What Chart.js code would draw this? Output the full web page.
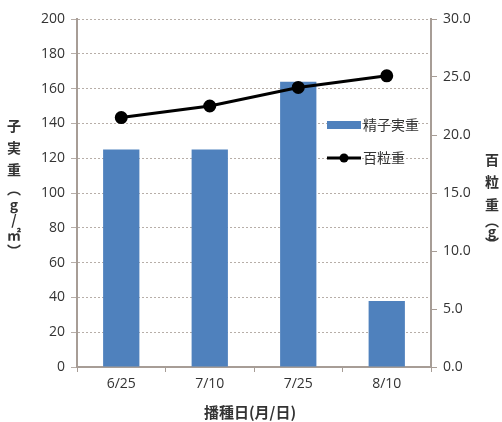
<!DOCTYPE html>
<html>
<head>
<meta charset="utf-8">
<script src="https://cdn.jsdelivr.net/npm/chart.js@4/dist/chart.umd.min.js"></script>
<style>
  html, body { margin: 0; padding: 0; background: #fff; }
  #wrap { width: 502px; height: 422px; position: relative; }
</style>
</head>
<body>
<div id="wrap"><canvas id="myChart" width="502" height="422"></canvas></div>
<script>
const dates = ["6/25", "7/10", "7/25", "8/10"];
const seedYield = [125, 125, 164, 38];      // 子実重 (g/㎡)
const hundredWeight = [21.5, 22.5, 24.1, 25.1]; // 百粒重 (g)

const seriesNames = ["精子実重", "百粒重"];
const leftTitle = ["子", "実", "重", "︵", "g", "/", "㎡", "︶"];
const rightTitle = ["百", "粒", "重", "︵", "g", "︶"];
const xTitle = "播種日(月/日)";

const barColor = "#4f81bd";
const axisColor = "#a79d96";
const gridColor = "#b7aea8";
const textColor = "#333333";
const numFont = { family: "'Open Sans', 'Liberation Sans', sans-serif", size: 14 };
const jpFont = "'Noto Sans CJK JP', sans-serif";

// legend inside the plot and the stacked axis titles
const extras = {
  id: "extras",
  afterDraw(chart) {
    const c = chart.ctx;
    c.save();
    c.fillStyle = textColor;
    c.textAlign = "center";
    c.textBaseline = "middle";
    c.font = "bold 14px " + jpFont;
    const ly = [126, 148, 170, 189, 205, 220, 235, 251];
    leftTitle.forEach((ch, i) => c.fillText(ch, 14, ly[i]));
    const ry = [160, 182, 205, 221, 232, 244];
    rightTitle.forEach((ch, i) => c.fillText(ch, 492, ry[i]));
    c.font = "bold 15px " + jpFont;
    c.fillText(xTitle, 250, 412);

    // legend
    c.textAlign = "left";
    c.font = "14px " + jpFont;
    c.fillStyle = barColor;
    c.fillRect(327, 121, 34, 8);
    c.fillStyle = textColor;
    c.fillText(seriesNames[0], 363, 125);
    c.strokeStyle = "#000";
    c.lineWidth = 3;
    c.beginPath();
    c.moveTo(327, 158);
    c.lineTo(361, 158);
    c.stroke();
    c.fillStyle = "#000";
    c.beginPath();
    c.arc(344, 158, 4.5, 0, Math.PI * 2);
    c.fill();
    c.fillStyle = textColor;
    c.fillText(seriesNames[1], 363, 158);
    c.restore();
  }
};

const ctx = document.getElementById("myChart").getContext("2d");
const myChart = new Chart(ctx, {
  type: "bar",
  data: {
    labels: dates,
    datasets: [
      {
        type: "line",
        label: seriesNames[1],
        data: hundredWeight,
        yAxisID: "y2",
        borderColor: "#000",
        backgroundColor: "#000",
        borderWidth: 3,
        pointRadius: 5,
        pointBackgroundColor: "#000",
        pointBorderColor: "#000",
        tension: 0,
        order: 0,
      },
      {
        label: seriesNames[0],
        data: seedYield,
        yAxisID: "y",
        backgroundColor: barColor,
        barPercentage: 1,
        categoryPercentage: 0.41,
        order: 1,
      },
    ],
  },
  options: {
    responsive: false,
    animation: false,
    layout: { padding: { top: 19, left: 0, right: 0, bottom: 0 } },
    plugins: {
      legend: { display: false },
      tooltip: { enabled: false },
    },
    scales: {
      x: {
        grid: { drawOnChartArea: false, color: axisColor, tickLength: 5, offset: true },
        border: { color: axisColor, width: 2 },
        ticks: { color: textColor, font: numFont, padding: 4 },
        afterFit: (s) => { s.height = 55; },
      },
      y: {
        position: "left",
        min: 0,
        max: 200,
        ticks: { stepSize: 20, color: textColor, font: numFont, padding: 6 },
        grid: { color: gridColor, lineWidth: 1, tickLength: 6, tickBorderDash: [] },
        border: { color: axisColor, width: 2, dash: [2, 2] },
        afterFit: (s) => { s.width = 77; },
      },
      y2: {
        position: "right",
        min: 0,
        max: 30,
        ticks: {
          stepSize: 5,
          color: textColor,
          font: numFont,
          padding: 6,
          callback: (v) => v.toFixed(1),
        },
        grid: { drawOnChartArea: false, color: axisColor, tickLength: 6 },
        border: { color: axisColor, width: 2 },
        afterFit: (s) => { s.width = 71; },
      },
    },
  },
  plugins: [extras],
});
</script>
</body>
</html>
